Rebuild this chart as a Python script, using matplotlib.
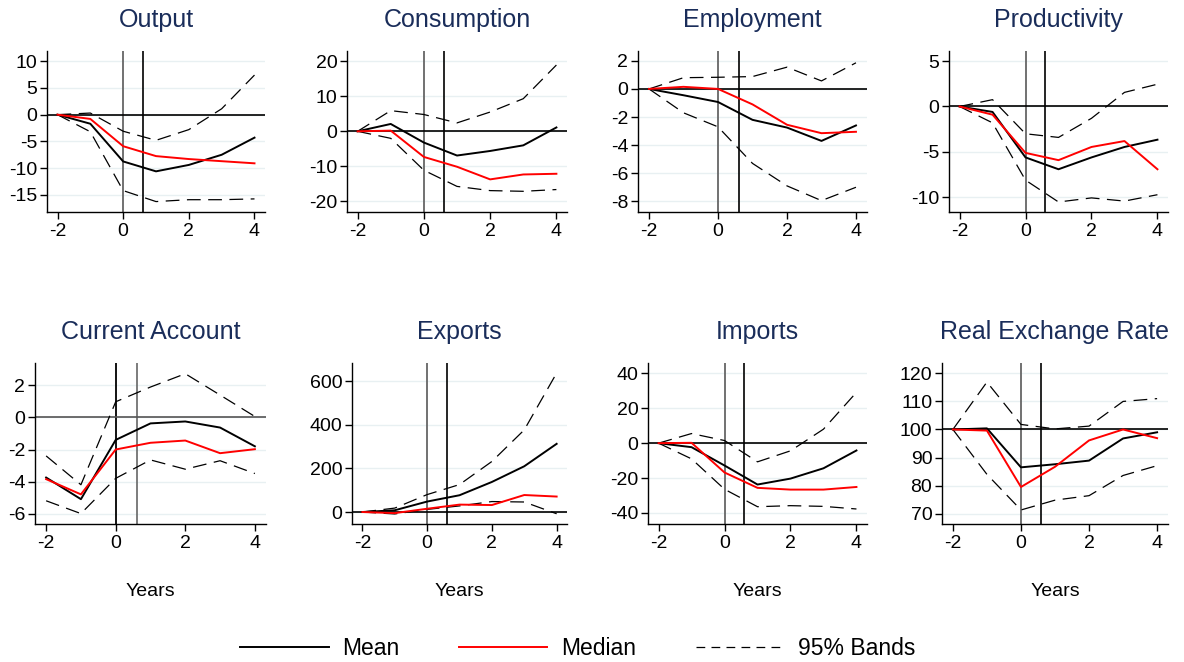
import matplotlib
matplotlib.use("Agg")
import matplotlib.pyplot as plt
from matplotlib.lines import Line2D

plt.rcParams['font.family'] = ['Liberation Sans', 'DejaVu Sans']
plt.rcParams['axes.unicode_minus'] = False

years = [-2, -1, 0, 1, 2, 3, 4]

titles = ["Output", "Consumption", "Employment", "Productivity",
          "Current Account", "Exports", "Imports", "Real Exchange Rate"]

output_mean = [0, -1.7, -8.75, -10.6, -9.4, -7.5, -4.3]
output_median = [0, -0.8, -5.9, -7.75, -8.3, -8.7, -9.1]
output_upper = [0, 0.3, -3.1, -4.8, -2.8, 1.1, 7.4]
output_lower = [0, -3.2, -14.2, -16.25, -15.9, -15.9, -15.75]

cons_mean = [0, 2.1, -3.2, -6.9, -5.6, -4.0, 1.1]
cons_median = [0, 0.2, -7.3, -10.1, -13.7, -12.3, -12.1]
cons_upper = [0, 5.9, 4.8, 2.4, 5.5, 9.3, 18.9]
cons_lower = [0, -2.0, -11.1, -15.7, -16.9, -17.1, -16.6]

emp_mean = [0, -0.45, -0.93, -2.2, -2.75, -3.7, -2.6]
emp_median = [0, 0.15, 0.0, -1.1, -2.55, -3.15, -3.05]
emp_upper = [0, 0.8, 0.83, 0.88, 1.55, 0.57, 1.86]
emp_lower = [0, -1.7, -2.7, -5.3, -6.9, -7.95, -7.0]

prod_mean = [0, -0.6, -5.6, -6.9, -5.6, -4.45, -3.65]
prod_median = [0, -0.9, -5.1, -5.9, -4.45, -3.8, -6.9]
prod_upper = [0, 0.75, -3.0, -3.4, -1.3, 1.55, 2.45]
prod_lower = [0, -1.8, -8.1, -10.5, -10.05, -10.4, -9.7]

ca_mean = [-3.75, -5.1, -1.4, -0.37, -0.25, -0.63, -1.8]
ca_median = [-3.85, -4.8, -2.0, -1.58, -1.44, -2.23, -1.98]
ca_upper = [-2.4, -4.2, 0.98, 1.9, 2.73, 1.4, 0.06]
ca_lower = [-5.2, -6.0, -3.8, -2.65, -3.23, -2.7, -3.5]

exp_mean = [0, 8, 48, 77, 138, 210, 313]
exp_median = [0, -5, 15, 34, 32, 78, 71]
exp_upper = [0, 18, 80, 126, 232, 377, 638]
exp_lower = [0, -9, 12, 28, 48, 46, -8]

imp_mean = [0, -2.3, -12.8, -23.7, -20.3, -14.4, -4.2]
imp_median = [0, 0.2, -16.8, -25.6, -26.6, -26.6, -25.1]
imp_upper = [0, 5.5, 1.5, -10.7, -4.4, 8.0, 29.1]
imp_lower = [0, -9.0, -26.4, -36.4, -35.8, -36.2, -37.7]

rer_mean = [100, 100.4, 86.5, 87.6, 88.9, 96.8, 99.0]
rer_median = [100, 99.6, 79.5, 86.7, 96.1, 100.0, 96.9]
rer_upper = [100, 116.9, 101.8, 100.2, 101.2, 110.0, 111.0]
rer_lower = [100, 84.0, 71.3, 74.8, 76.4, 83.6, 87.1]

means = [output_mean, cons_mean, emp_mean, prod_mean, ca_mean, exp_mean, imp_mean, rer_mean]
medians = [output_median, cons_median, emp_median, prod_median, ca_median, exp_median, imp_median, rer_median]
uppers = [output_upper, cons_upper, emp_upper, prod_upper, ca_upper, exp_upper, imp_upper, rer_upper]
lowers = [output_lower, cons_lower, emp_lower, prod_lower, ca_lower, exp_lower, imp_lower, rer_lower]

yticks = [[-15, -10, -5, 0, 5, 10], [-20, -10, 0, 10, 20], [-8, -6, -4, -2, 0, 2], [-10, -5, 0, 5],
          [-6, -4, -2, 0, 2], [0, 200, 400, 600], [-40, -20, 0, 20, 40], [70, 80, 90, 100, 110, 120]]
ylims = [(-18.2, 11.9), (-23.0, 22.9), (-8.76, 2.7), (-11.6, 6.1),
         (-6.65, 3.4), (-55, 684), (-46.3, 45.9), (66.3, 123.7)]
refs = [0, 0, 0, 0, 0, 0, 0, 100]

W, H = 1184, 662
boxes = [(47, 218), (347, 220), (638, 229), (949, 219),
         (35, 231), (352, 215), (648, 219), (942, 226)]
tops = [51, 51, 51, 51, 363, 363, 363, 363]
ah = 161

fig = plt.figure(figsize=(W / 100, H / 100), dpi=100)
title_color = '#1a2d5a'
dash = (0, (11, 6))

for i in range(8):
    l, w = boxes[i]
    t = tops[i]
    ax = fig.add_axes([l / W, (H - t - ah) / H, w / W, ah / H])
    ax.set_xlim(-2.32, 4.32)
    ax.set_ylim(*ylims[i])
    ax.set_yticks(yticks[i])
    ax.set_xticks([-2, 0, 2, 4])
    for yv in yticks[i]:
        ax.axhline(yv, color='#e8f0f2', lw=1.0, zorder=0)
    if i == 4:
        c0, c1 = 'black', '#666666'
    else:
        c0, c1 = '#666666', 'black'
    ax.axvline(0, color=c0, lw=1.3, zorder=1)
    ax.axvline(0.6, color=c1, lw=1.2, zorder=1)
    ax.axhline(refs[i], color='black' if i != 4 else '#555555', lw=1.2, zorder=1)
    ax.plot(years, uppers[i], color='black', lw=0.9, linestyle=dash, zorder=2)
    ax.plot(years, lowers[i], color='black', lw=0.9, linestyle=dash, zorder=2)
    ax.plot(years, means[i], color='black', lw=1.4, zorder=3)
    ax.plot(years, medians[i], color='#ff0000', lw=1.4, zorder=4)
    for s in ['top', 'right']:
        ax.spines[s].set_visible(False)
    for s in ['left', 'bottom']:
        ax.spines[s].set_linewidth(1.0)
    ax.tick_params(axis='both', labelsize=14, length=5, width=1.0, direction='out', pad=3, colors='black')
    ax.tick_params(axis='y', pad=2)
    ax.set_title(titles[i], fontsize=18, color=title_color, pad=17)
    if i >= 4:
        ax.set_xlabel('Years', fontsize=14, labelpad=22)

handles = [Line2D([], [], color='black', lw=1.4),
           Line2D([], [], color='#ff0000', lw=1.4),
           Line2D([], [], color='black', lw=0.9, linestyle=(0, (7, 5)))]
fig.legend(handles, ['Mean', 'Median', '95% Bands'], loc='center', bbox_to_anchor=(0.488, 0.021),
           ncol=3, frameon=False, fontsize=16.5, handlelength=3.85, handletextpad=0.6, columnspacing=2.6)

fig.savefig('out.png', dpi=100, facecolor='white')
